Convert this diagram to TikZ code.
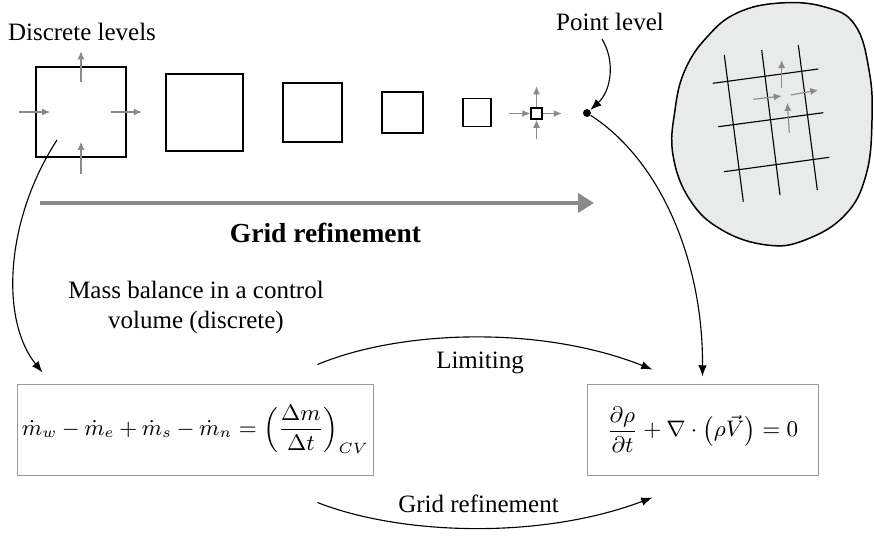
\documentclass[tikz,border=0pt]{standalone}
\usepackage{fontspec}
\setmainfont{Liberation Serif}
\usetikzlibrary{arrows.meta,calc}
\definecolor{fluxgray}{HTML}{8A8A8A}
\definecolor{blobfill}{HTML}{E9EAEA}
\definecolor{boxgray}{HTML}{9A9A9A}
\tikzset{
	cell/.style = {draw, line width=0.6pt, minimum size=#1, inner sep=0pt},
	flux/.style = {fluxgray, line width=0.45pt, -{Latex[length=3.2pt,width=2.8pt]}},
	link/.style = {line width=0.45pt, -{Latex[length=4.5pt,width=3.4pt]}},
	eqbox/.style = {draw=boxgray, line width=0.4pt, minimum height=36.4pt, inner sep=1pt, font=\fontsize{9}{11}\selectfont}
}

\begin{document}
\begin{tikzpicture}[x=0.4pt, y=-0.4pt]
	\useasboundingbox (0,0) rectangle (874,535);

	% shrinking control volumes
	\node [anchor=base] (dlev) at (82,40) {Discrete levels};
	\node [cell=36pt] (sq1) at (81,112) {};
	\node [cell=30.8pt] (sq2) at (204.5,112.5) {};
	\node [cell=23.6pt] (sq3) at (312.5,112.5) {};
	\node [cell=16.4pt] (sq4) at (402.5,112.5) {};
	\node [cell=11.2pt] (sq5) at (477,112.5) {};
	\node [cell=4.4pt] (sq6) at (536.5,113.5) {};

	\draw [flux] ($(sq1.north)+(0,16)$) -- ++(0,-31);
	\draw [flux] ($(sq1.west)+(-16,0)$) -- ++(31,0);
	\draw [flux] ($(sq1.east)+(-16,0)$) -- ++(31,0);
	\draw [flux] ($(sq1.south)+(0,16)$) -- ++(0,-32);

	\draw [flux] ($(sq6.west)+(-21,0)$) -- (sq6.west);
	\draw [flux] (sq6.east) -- ++(19,0);
	\draw [flux] (sq6.north) -- ++(0,-21);
	\draw [flux] ($(sq6.south)+(0,19)$) -- (sq6.south);

	% point level
	\node [circle, fill, inner sep=0pt, minimum size=3.2pt] (pt) at (587,113) {};
	\node [anchor=base] (plev) at (610,30) {Point level};
	\draw [link] ($(plev.south)+(-8,0)$) .. controls (615,60) and (612,90) .. (pt);

	% refinement arrow
	\coordinate (gstart) at (40,203);
	\coordinate (gend) at (594,203);
	\draw [fluxgray, line width=1.6pt, -{Triangle[length=6.4pt,width=7.6pt]}] (gstart) -- (gend);
	\node [anchor=base, font=\fontsize{11}{13}\selectfont\bfseries] (gref) at (325.5,242) {Grid refinement};

	% continuum with grid
	\draw [line width=0.6pt, fill=blobfill] plot [smooth cycle, tension=0.7] coordinates {(707,37) (737,13) (780,3) (825,7) (855,25) (869,70) (872,120) (866,175) (845,215) (805,240) (767,245) (722,230) (690,200) (673,155) (675,110) (685,70)};
	\draw [line width=0.45pt] (724.3,55) -- (743.3,201.7);
	\draw [line width=0.45pt] (761.7,50) -- (780,195);
	\draw [line width=0.45pt] (798.3,45) -- (817.3,190);
	\draw [line width=0.45pt] (712.7,83.3) -- (818.3,69);
	\draw [line width=0.45pt] (718.3,126.7) -- (823.3,112.7);
	\draw [line width=0.45pt] (724,171.7) -- (829.3,157.3);
	\draw [flux] (781.7,88.3) -- (781.7,60);
	\draw [flux] (753.3,99.3) -- (781.7,96);
	\draw [flux] (790.7,95) -- (818.3,90);
	\draw [flux] (789.3,132.7) -- (787.3,102.7);

	% equations
	\node [eqbox, minimum width=142pt] (eqd) at (195.5,429.5) {$\medmuskip=3.5mu\displaystyle \dot m_w - \dot m_e + \dot m_s - \dot m_n = \left(\frac{\Delta m}{\Delta t}\right)_{CV}$};
	\node [eqbox, minimum width=92.4pt] (eqc) at (702.5,429.5) {$\displaystyle \frac{\partial\rho}{\partial t} + \nabla\cdot\left(\rho\vec{V}\right) = 0$};

	\node [anchor=base, align=center] (mass) at (196,328) {Mass balance in a control\\volume (discrete)};
	\node [anchor=base] (lim) at (480,368) {Limiting};
	\node [anchor=base] (gref2) at (478.5,512) {Grid refinement};

	\draw [link] ($(sq1.center)+(-24,28)$) .. controls (5,220) and (0,320) .. ($(eqd.north west)+(25,-11)$);
	\draw [link] ($(eqd.north east)+(-56,-19)$) .. controls (400,330) and (540,325) .. ($(eqc.north west)+(66,-14)$);
	\draw [link] ($(eqd.south east)+(-56,27)$) .. controls (400,535) and (540,540) .. ($(eqc.south west)+(66,22)$);
	\draw [link] (pt) .. controls (660,160) and (703,260) .. ($(eqc.north)+(0,-7)$);
\end{tikzpicture}
\end{document}
